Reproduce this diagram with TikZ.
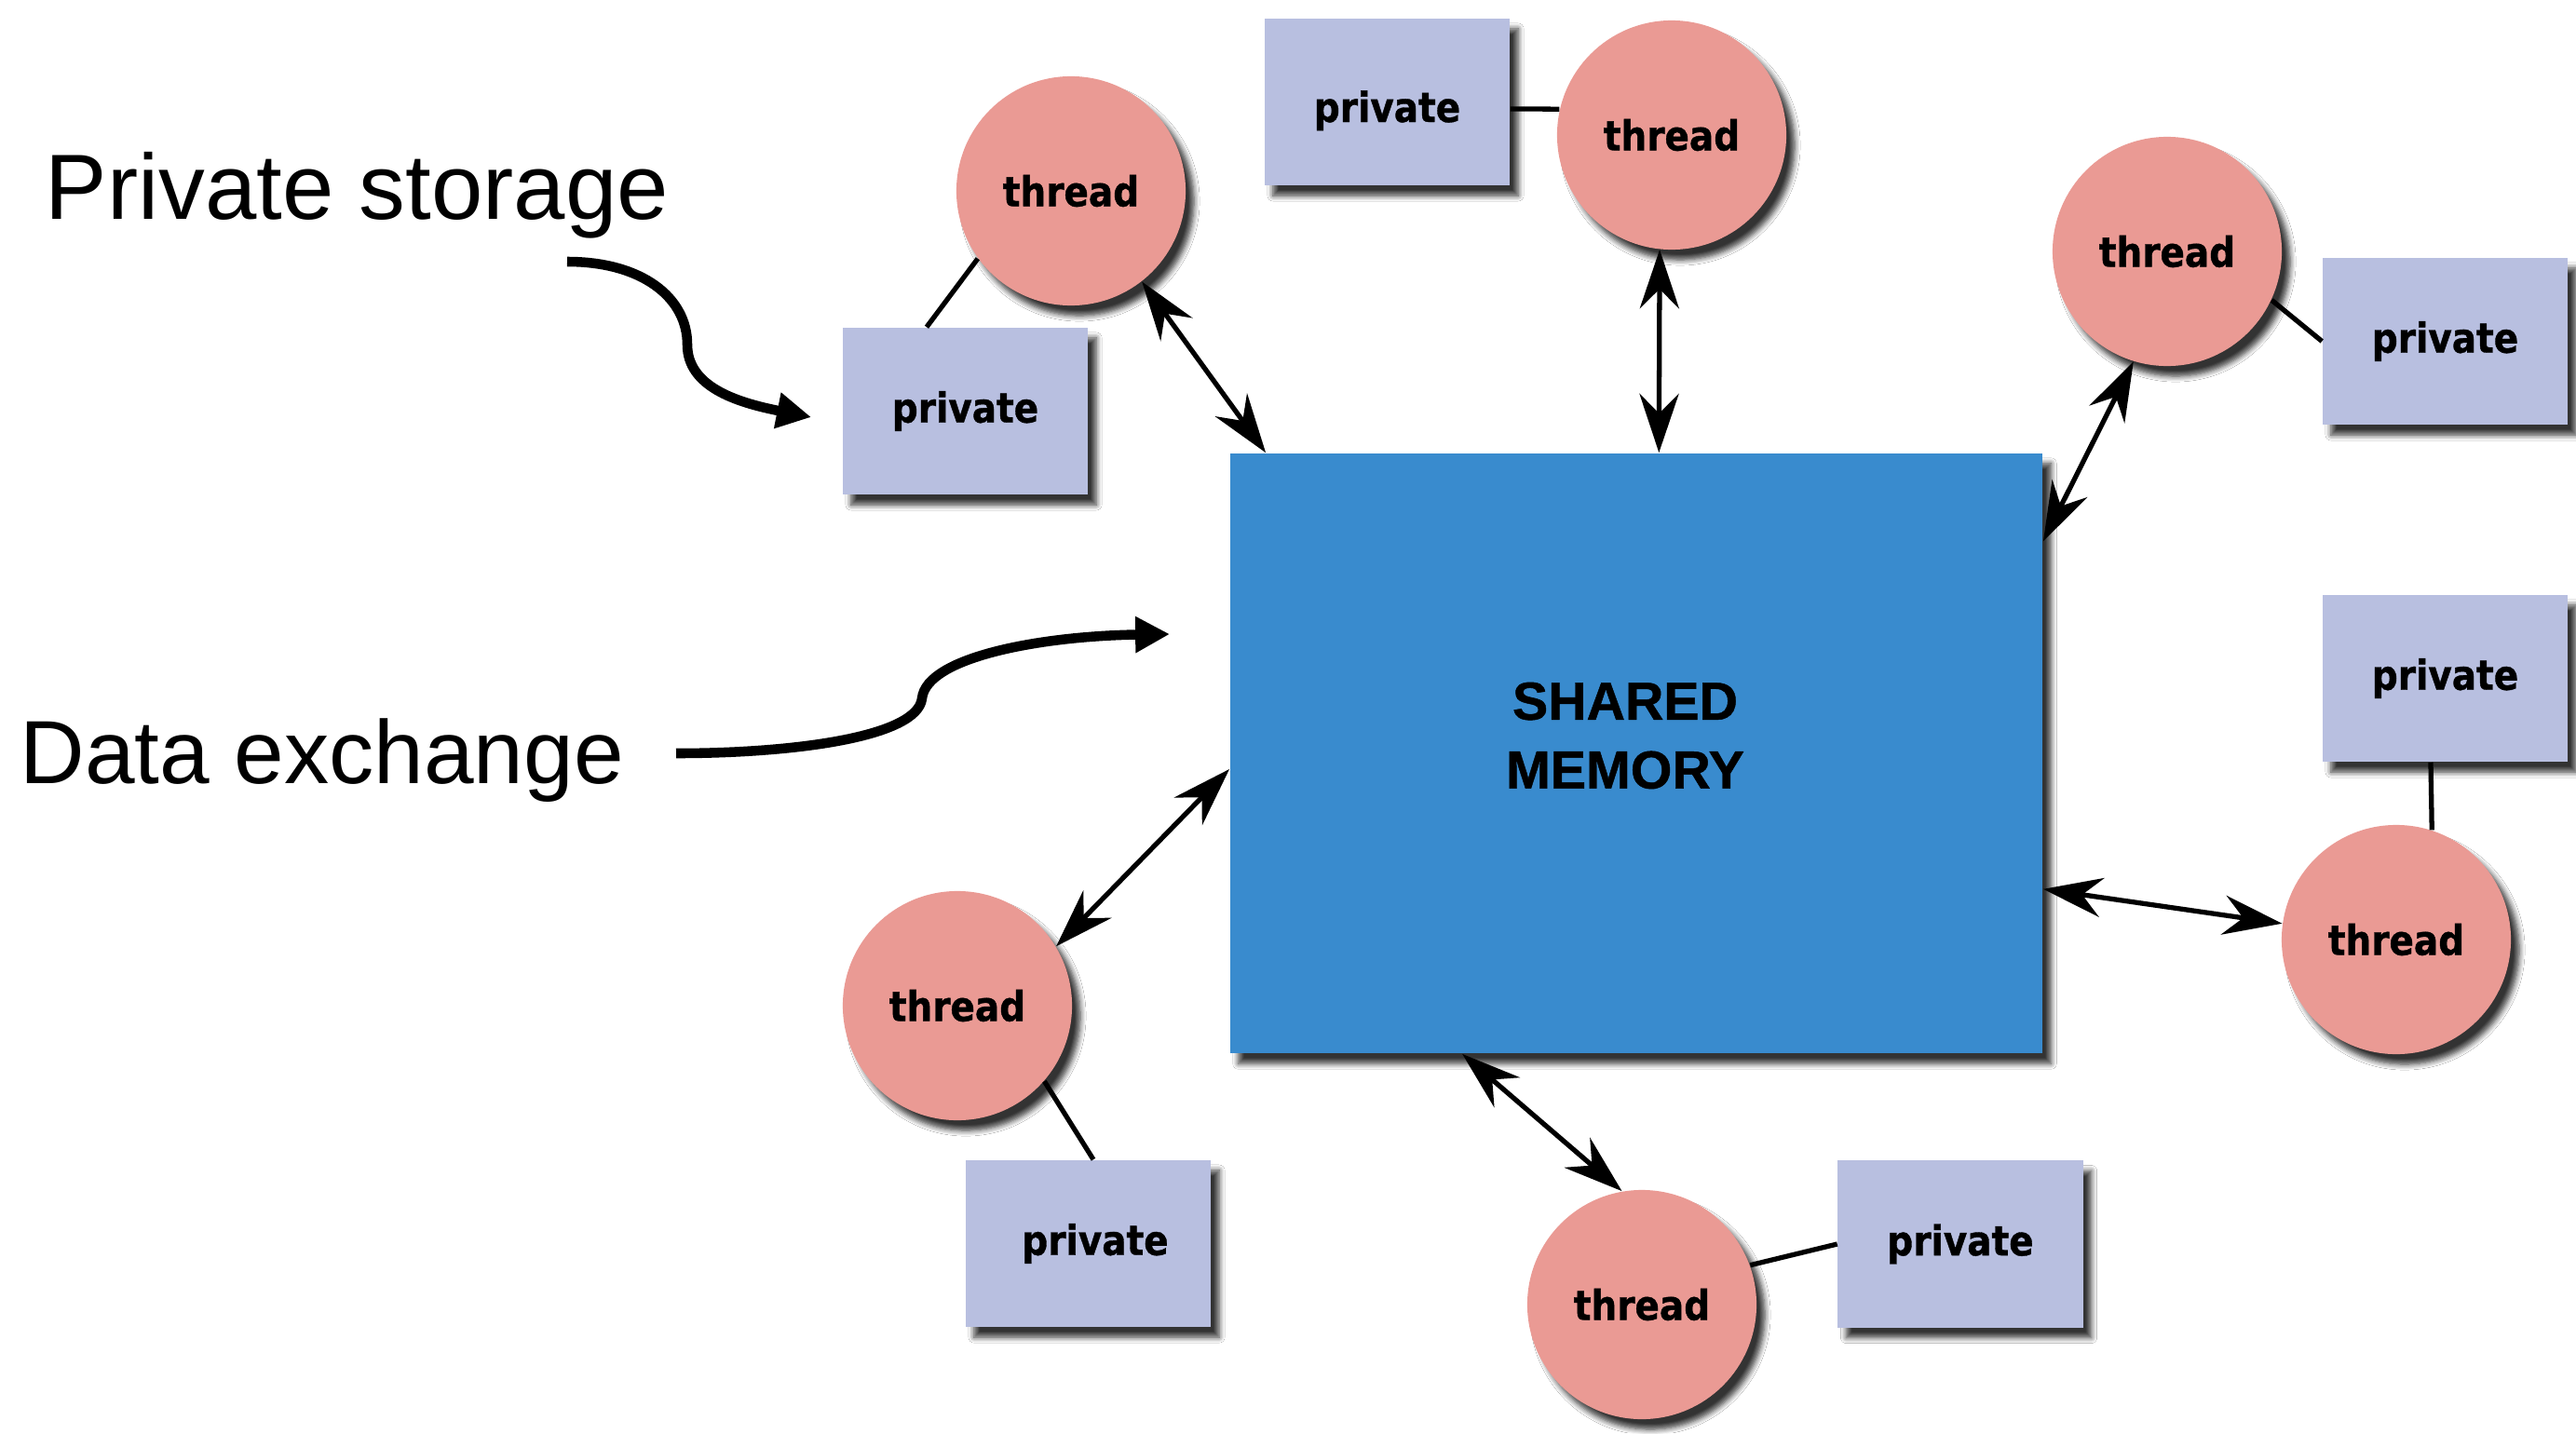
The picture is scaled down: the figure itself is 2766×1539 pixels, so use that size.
\documentclass[tikz,border=0pt]{standalone}
\usepackage{fontspec}
\setmainfont{Liberation Sans}
\newfontfamily\nodefont{DejaVu Sans}[FakeStretch=0.88, BoldFeatures={FakeBold=0.8}]
\newfontfamily\memfont{Liberation Sans}[BoldFeatures={FakeBold=0.8}]
\usetikzlibrary{arrows.meta,shadows.blur}
\definecolor{smblue}{RGB}{57,139,206}
\definecolor{thpink}{RGB}{234,154,148}
\definecolor{prlav}{RGB}{184,191,224}
\begin{document}
\begin{tikzpicture}[x=0.01cm,y=-0.01cm,
  shd/.style={blur shadow={shadow xshift=0.09cm, shadow yshift=-0.11cm, shadow blur radius=0.06cm, shadow blur steps=6, shadow opacity=80}},
  thr/.style={circle, fill=thpink, minimum size=2.46cm, inner sep=0pt, shd, font={\nodefont\bfseries\fontsize{12.6pt}{14pt}\selectfont}},
  prv/.style={rectangle, fill=prlav, minimum width=2.63cm, minimum height=1.79cm, inner sep=0pt, shd, font={\nodefont\bfseries\fontsize{12.6pt}{14pt}\selectfont}},
  shm/.style={rectangle, fill=smblue, minimum width=8.72cm, minimum height=6.44cm, inner sep=0pt, shd},
  dbl/.style={{Stealth[length=18pt,width=12pt,inset=6pt]}-{Stealth[length=18pt,width=12pt,inset=6pt]}, line width=1.5pt},
  lnk/.style={line width=1.5pt},
  ann/.style={-{Triangle[length=10.5pt,width=10.5pt]}, line width=3pt},
  lbl/.style={anchor=base west, inner sep=0pt}
]
\useasboundingbox (0,0) rectangle (2766,1539);
\fill[white] (0,0) rectangle (2766,1539);

% shared memory
\node[shm] (sm) at (1757,809) {};
\node[font={\memfont\bfseries\fontsize{16.3pt}{21pt}\selectfont}, align=center, inner sep=0pt] (smt) at (1745,790) {SHARED\\MEMORY};

% threads
\node[thr] (t1) at (1150,205) {thread};
\node[thr] (t2) at (1795,145) {thread};
\node[thr] (t3) at (2327,270) {thread};
\node[thr] (t4) at (2573,1009) {thread};
\node[thr] (t5) at (1763,1401) {thread};
\node[thr] (t6) at (1028,1080) {thread};

% private
\node[prv] (p1) at (1036.5,441.5) {private};
\node[prv, text height=0.53cm, text depth=0.1cm] (p2) at (1489.5,109.5) {private};
\node[prv] (p3) at (2625.5,366.5) {private};
\node[prv] (p4) at (2625.5,728.5) {private};
\node[prv] (p5) at (2105,1336) {private};
\node[prv] (p6) at (1168.5,1335.5) {\hspace{0.15cm}private};

% thread - private links
\draw[lnk] ([xshift=-0.415cm]p1.north) -- (t1.216);
\draw[lnk] ([yshift=-0.075cm]p2.east) -- (t2.167);
\draw[lnk] (t3.-25) -- (p3.west);
\draw[lnk] ([xshift=-0.155cm]p4.south) -- (t4.72.5);
\draw[lnk] (t5.20) -- (p5.west);
\draw[lnk] (t6.-41) -- ([xshift=0.055cm]p6.north);

% thread - shared memory arrows
\draw[dbl] (t1.-52) -- ([xshift=0.39cm]sm.north west);
\draw[dbl] (t2.264) -- ([xshift=4.61cm]sm.north west);
\draw[dbl] (t3.253) -- ([yshift=-0.95cm]sm.north east);
\draw[dbl] (t4.172) -- ([yshift=1.77cm]sm.south east);
\draw[dbl] (t5.100) -- ([xshift=2.5cm]sm.south west);
\draw[dbl] (t6.31) -- ([yshift=-0.17cm]sm.west);

% annotations
\node[lbl, font={\fontsize{28.3pt}{34pt}\selectfont}] (ps) at (48,235) {Private storage};
\node[lbl, font={\fontsize{27.4pt}{33pt}\selectfont}] (dx) at (21,841) {Data exchange};
\coordinate (ps0) at (609,281);
\coordinate (ps1) at (871,448);
\coordinate (dx0) at (726,809);
\coordinate (dx1) at (1256,681);
\draw[ann] (ps0) .. controls (690,281) and (738,320) .. (738,370) .. controls (738,415) and (790,432) .. (ps1);
\draw[ann] (dx0) .. controls (850,809) and (985,792) .. (990,750) .. controls (995,705) and (1120,683) .. (dx1);
\end{tikzpicture}
\end{document}
